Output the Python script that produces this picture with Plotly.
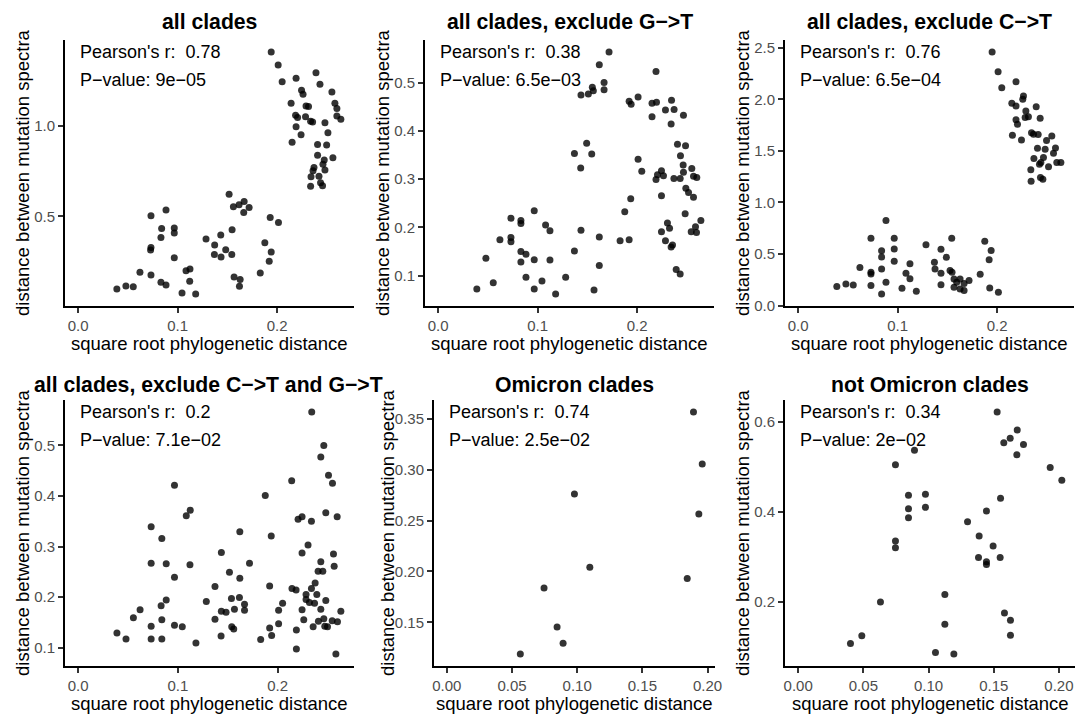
import plotly.graph_objects as go

W, H = 1078, 714
FONT = "Liberation Sans, Arial, sans-serif"

# ---------------- data ----------------
titles = ["all clades", "all clades, exclude G\u2212>T", "all clades, exclude C\u2212>T",
          "all clades, exclude C\u2212>T and G\u2212>T", "Omicron clades", "not Omicron clades"]
pearson_r = ["0.78", "0.38", "0.76", "0.2", "0.74", "0.34"]
p_values = ["9e\u221205", "6.5e\u221203", "6.5e\u221204", "7.1e\u221202", "2.5e\u221202", "2e\u221202"]
x_label = "square root phylogenetic distance"
y_label = "distance between mutation spectra"

p1_x = [0.194, 0.201, 0.205, 0.219, 0.239, 0.243, 0.255, 0.2245, 0.226, 0.214,
        0.229, 0.2315, 0.258, 0.260, 0.2185, 0.2205, 0.2285, 0.2336, 0.2356, 0.248,
        0.260, 0.264, 0.219, 0.224, 0.251, 0.215, 0.2406, 0.2497, 0.2406, 0.2473,
        0.256, 0.246, 0.237, 0.236, 0.248, 0.234, 0.242, 0.2336, 0.2436, 0.2456,
        0.1517, 0.156, 0.1617, 0.1668, 0.1718, 0.1664, 0.193, 0.2013, 0.0732, 0.0883,
        0.0839, 0.0832, 0.0966, 0.0966, 0.1285, 0.1433, 0.1547, 0.1372, 0.1483, 0.1544,
        0.1369, 0.1436, 0.1876, 0.194, 0.192, 0.183, 0.0732, 0.0728, 0.0966, 0.0621,
        0.0732, 0.1084, 0.1124, 0.0832, 0.0883, 0.1121, 0.0389, 0.048, 0.0554, 0.1044,
        0.1181, 0.1567, 0.1628, 0.1621]
p1_y = [1.408, 1.336, 1.244, 1.263, 1.294, 1.230, 1.188, 1.197, 1.175, 1.125,
        1.110, 1.107, 1.125, 1.096, 1.059, 1.046, 1.051, 1.026, 1.022, 1.018,
        1.055, 1.037, 0.996, 0.952, 0.963, 0.910, 0.897, 0.895, 0.838, 0.8125,
        0.824, 0.789, 0.770, 0.752, 0.756, 0.719, 0.722, 0.667, 0.686, 0.669,
        0.623, 0.553, 0.564, 0.583, 0.550, 0.522, 0.494, 0.467, 0.504, 0.535,
        0.434, 0.384, 0.436, 0.408, 0.375, 0.397, 0.426, 0.342, 0.316, 0.290,
        0.290, 0.276, 0.355, 0.303, 0.252, 0.1875, 0.329, 0.314, 0.272, 0.191,
        0.176, 0.200, 0.210, 0.136, 0.121, 0.142, 0.099, 0.116, 0.112, 0.077,
        0.072, 0.165, 0.151, 0.114]

p2_x = [0.1718, 0.162, 0.219, 0.1668, 0.155, 0.156, 0.1668, 0.1436, 0.151, 0.192,
        0.194, 0.201, 0.215, 0.2195, 0.2346, 0.2285, 0.2372, 0.2466, 0.215, 0.2342,
        0.1493, 0.137, 0.1544, 0.1433, 0.2406, 0.2487, 0.2436, 0.201, 0.2047, 0.2463,
        0.255, 0.2245, 0.2205, 0.2265, 0.219, 0.237, 0.2433, 0.2466, 0.260, 0.2567,
        0.249, 0.2517, 0.2567, 0.2245, 0.1936, 0.1876, 0.2483, 0.2641, 0.2587, 0.2544,
        0.2597, 0.2305, 0.2326, 0.2245, 0.2285, 0.2342, 0.2356, 0.1829, 0.192, 0.2393,
        0.2433, 0.1436, 0.162, 0.137, 0.162, 0.1567, 0.0966, 0.0732, 0.0832, 0.0832,
        0.108, 0.1124, 0.0621, 0.0732, 0.0732, 0.0832, 0.0883, 0.0832, 0.0966, 0.1124,
        0.048, 0.0883, 0.1044, 0.1282, 0.0554, 0.0389, 0.0966, 0.1181]
p2_y = [0.563, 0.537, 0.523, 0.500, 0.490, 0.483, 0.485, 0.474, 0.476, 0.461,
        0.455, 0.470, 0.457, 0.459, 0.463, 0.443, 0.444, 0.432, 0.429, 0.414,
        0.374, 0.353, 0.352, 0.323, 0.372, 0.369, 0.348, 0.341, 0.316, 0.329,
        0.322, 0.317, 0.309, 0.307, 0.299, 0.301, 0.301, 0.314, 0.303, 0.306,
        0.281, 0.272, 0.262, 0.2655, 0.259, 0.232, 0.228, 0.214, 0.201, 0.191,
        0.189, 0.209, 0.198, 0.191, 0.172, 0.159, 0.1635, 0.172, 0.174, 0.1124,
        0.103, 0.194, 0.180, 0.151, 0.121, 0.070, 0.2345, 0.219, 0.214, 0.208,
        0.205, 0.193, 0.174, 0.179, 0.170, 0.150, 0.144, 0.128, 0.133, 0.132,
        0.136, 0.0966, 0.089, 0.0966, 0.085, 0.072, 0.072, 0.062]

p3_x = [0.195, 0.201, 0.2047, 0.219, 0.2265, 0.2258, 0.2148, 0.219, 0.2289, 0.2315,
        0.2393, 0.2433, 0.219, 0.2205, 0.2282, 0.2154, 0.2245, 0.2346, 0.2366, 0.2413,
        0.2497, 0.255, 0.2406, 0.2483, 0.2587, 0.2567, 0.237, 0.2466, 0.244, 0.260,
        0.2641, 0.2517, 0.2426, 0.2339, 0.2436, 0.246, 0.2342, 0.0883, 0.0732, 0.0966,
        0.1544, 0.1876, 0.1285, 0.0966, 0.1436, 0.194, 0.0839, 0.0839, 0.149, 0.192,
        0.0966, 0.1124, 0.137, 0.0621, 0.1376, 0.0839, 0.0732, 0.0732, 0.1084, 0.1527,
        0.1547, 0.1436, 0.1124, 0.183, 0.1567, 0.1628, 0.1718, 0.1594, 0.1668, 0.1567,
        0.1628, 0.1668, 0.0883, 0.0389, 0.048, 0.0554, 0.0732, 0.1044, 0.1436, 0.1188,
        0.0839, 0.1926, 0.2013]
p3_y = [2.458, 2.268, 2.113, 2.171, 2.032, 2.000, 1.961, 1.935, 1.887, 1.832,
        1.929, 1.816, 1.803, 1.758, 1.823, 1.652, 1.606, 1.677, 1.661, 1.658,
        1.600, 1.645, 1.526, 1.516, 1.529, 1.477, 1.426, 1.435, 1.387, 1.387,
        1.387, 1.345, 1.371, 1.316, 1.242, 1.226, 1.206, 0.826, 0.652, 0.652,
        0.652, 0.623, 0.590, 0.548, 0.545, 0.535, 0.532, 0.471, 0.468, 0.445,
        0.429, 0.406, 0.419, 0.368, 0.355, 0.355, 0.323, 0.306, 0.313, 0.339,
        0.323, 0.313, 0.261, 0.303, 0.258, 0.258, 0.242, 0.226, 0.213, 0.177,
        0.161, 0.145, 0.226, 0.184, 0.210, 0.200, 0.194, 0.168, 0.203, 0.139,
        0.113, 0.171, 0.129]

p4_x = [0.2342, 0.2463, 0.2433, 0.251, 0.255, 0.2141, 0.0966, 0.1876, 0.1124, 0.1084,
        0.2205, 0.2245, 0.2339, 0.2483, 0.2597, 0.0732, 0.0839, 0.1621, 0.1936, 0.2305,
        0.2245, 0.1436, 0.256, 0.2433, 0.0732, 0.0883, 0.1121, 0.1718, 0.2567, 0.2406,
        0.2453, 0.1517, 0.0966, 0.1621, 0.192, 0.1372, 0.2376, 0.2144, 0.2185, 0.2339,
        0.2285, 0.2393, 0.2285, 0.2319, 0.237, 0.2483, 0.0883, 0.0832, 0.1285, 0.1537,
        0.1617, 0.1668, 0.1668, 0.1567, 0.1436, 0.1483, 0.205, 0.201, 0.2245, 0.2433,
        0.2634, 0.0621, 0.0554, 0.0839, 0.1372, 0.2262, 0.2463, 0.2409, 0.2547, 0.260,
        0.201, 0.0732, 0.0966, 0.1044, 0.154, 0.156, 0.192, 0.2356, 0.2473, 0.250,
        0.0389, 0.048, 0.0732, 0.0839, 0.1433, 0.194, 0.2188, 0.183, 0.1181, 0.2188,
        0.2584]
p4_y = [0.566, 0.500, 0.477, 0.441, 0.425, 0.430, 0.421, 0.401, 0.372, 0.361,
        0.354, 0.359, 0.350, 0.367, 0.359, 0.339, 0.316, 0.329, 0.321, 0.303,
        0.287, 0.288, 0.285, 0.270, 0.267, 0.266, 0.264, 0.267, 0.261, 0.251,
        0.251, 0.249, 0.239, 0.237, 0.222, 0.221, 0.228, 0.217, 0.214, 0.217,
        0.205, 0.205, 0.195, 0.189, 0.1875, 0.193, 0.194, 0.183, 0.191, 0.197,
        0.199, 0.186, 0.174, 0.176, 0.172, 0.170, 0.1875, 0.174, 0.175, 0.176,
        0.172, 0.175, 0.159, 0.155, 0.156, 0.155, 0.157, 0.152, 0.153, 0.151,
        0.147, 0.142, 0.144, 0.141, 0.141, 0.137, 0.139, 0.141, 0.142, 0.141,
        0.129, 0.117, 0.117, 0.117, 0.123, 0.124, 0.135, 0.116, 0.109, 0.097,
        0.0875]

p5_x = [0.1892, 0.1959, 0.0979, 0.1933, 0.1097, 0.1844, 0.0746, 0.0846, 0.0892, 0.0564]
p5_y = [0.3565, 0.3056, 0.2761, 0.2565, 0.2042, 0.1931, 0.1837, 0.1454, 0.1294, 0.119]

p6_x = [0.1526, 0.168, 0.1626, 0.1577, 0.1728, 0.1677, 0.0892, 0.0746, 0.1933, 0.2022,
        0.0846, 0.0976, 0.1552, 0.0846, 0.0976, 0.1444, 0.0846, 0.1299, 0.1388, 0.0746,
        0.0746, 0.1495, 0.1383, 0.1444, 0.1444, 0.1549, 0.1125, 0.0631, 0.1582, 0.1628,
        0.1628, 0.1125, 0.0488, 0.0401, 0.1053, 0.1194]
p6_y = [0.622, 0.582, 0.564, 0.554, 0.550, 0.527, 0.537, 0.505, 0.4985, 0.470,
        0.437, 0.439, 0.430, 0.407, 0.410, 0.402, 0.387, 0.378, 0.346, 0.335,
        0.320, 0.324, 0.2985, 0.289, 0.283, 0.2985, 0.216, 0.1993, 0.175, 0.1585,
        0.125, 0.150, 0.1244, 0.107, 0.0867, 0.0837]

series = [(p1_x, p1_y), (p2_x, p2_y), (p3_x, p3_y), (p4_x, p4_y), (p5_x, p5_y), (p6_x, p6_y)]

# ---------------- layout (pixel boxes of each panel) ----------------
panels = [
    dict(l=65, r=354, t=40, b=306, xd=0.1, xf=".1f", yd=0.5, yf=".1f", tx=209.5, ty=21, ytx=22),
    dict(l=425, r=714, t=40, b=306, xd=0.1, xf=".1f", yd=0.1, yf=".1f", tx=569.5, ty=21, ytx=382),
    dict(l=785, r=1074, t=40, b=306, xd=0.1, xf=".1f", yd=0.5, yf=".1f", tx=929.5, ty=21, ytx=742),
    dict(l=65, r=354, t=400, b=666, xd=0.1, xf=".1f", yd=0.1, yf=".1f", tx=208, ty=384, ytx=22),
    dict(l=434, r=715, t=400, b=666, xd=0.05, xf=".2f", yd=0.05, yf=".2f", tx=574.5, ty=384, ytx=387),
    dict(l=785, r=1075, t=400, b=666, xd=0.05, xf=".2f", yd=0.2, yf=".1f", tx=929.5, ty=384, ytx=742),
]


def px(v):
    return v / W


def py(v):
    return 1 - v / H


fig = go.Figure()
annotations = []
layout = {}

for i, ((xs, ys), pn) in enumerate(zip(series, panels)):
    n = "" if i == 0 else str(i + 1)
    fig.add_trace(go.Scatter(
        x=xs, y=ys, mode="markers", xaxis="x" + n, yaxis="y" + n,
        marker=dict(size=7, color="rgba(0,0,0,0.8)", line=dict(width=0)),
        showlegend=False, hoverinfo="x+y", cliponaxis=False))

    xmin = min(0.0, min(xs))
    xmax = max(xs)
    xs_span = xmax - xmin
    ymin, ymax = min(ys), max(ys)
    ys_span = ymax - ymin
    common = dict(showline=True, linecolor="#000000", linewidth=2,
                  ticks="outside", ticklen=5, tickwidth=1.5, tickcolor="#333333",
                  showgrid=False, zeroline=False, automargin=False,
                  tickfont=dict(family=FONT, size=15, color="#4D4D4D"))
    layout["xaxis" + n] = dict(common, domain=[px(pn["l"]), px(pn["r"])], anchor="y" + n,
                               range=[xmin - 0.05 * xs_span, xmax + 0.05 * xs_span],
                               tick0=0, dtick=pn["xd"], tickformat=pn["xf"])
    layout["yaxis" + n] = dict(common, domain=[py(pn["b"]), py(pn["t"])], anchor="x" + n,
                               range=[ymin - 0.05 * ys_span, ymax + 0.05 * ys_span],
                               tick0=0, dtick=pn["yd"], tickformat=pn["yf"])

    # title
    annotations.append(dict(text="<b>" + titles[i] + "</b>", x=px(pn["tx"]), y=py(pn["ty"]),
                            xref="paper", yref="paper", xanchor="center", yanchor="middle",
                            showarrow=False, font=dict(family=FONT, size=21.2, color="black")))
    # stats text
    annotations.append(dict(text="Pearson's r: \u00a0" + pearson_r[i], x=0, xref="x" + n,
                            y=py(pn["t"] + 12), yref="paper", xanchor="left", yanchor="middle",
                            showarrow=False, font=dict(family=FONT, size=18, color="black")))
    annotations.append(dict(text="P\u2212value: " + p_values[i], x=0, xref="x" + n,
                            y=py(pn["t"] + 40), yref="paper", xanchor="left", yanchor="middle",
                            showarrow=False, font=dict(family=FONT, size=18, color="black")))
    # axis titles
    annotations.append(dict(text=x_label, x=px((pn["l"] + pn["r"]) / 2), y=py(pn["b"] + 37),
                            xref="paper", yref="paper", xanchor="center", yanchor="middle",
                            showarrow=False, font=dict(family=FONT, size=18.5, color="black")))
    annotations.append(dict(text=y_label, x=px(pn["ytx"]), y=py((pn["t"] + pn["b"]) / 2),
                            xref="paper", yref="paper", xanchor="center", yanchor="middle",
                            textangle=-90, showarrow=False,
                            font=dict(family=FONT, size=18.5, color="black")))

fig.update_layout(
    template="none",
    width=W, height=H, autosize=False,
    margin=dict(l=0, r=0, t=0, b=0, pad=0),
    paper_bgcolor="white", plot_bgcolor="white",
    hovermode=False,
    annotations=annotations, **layout)

fig.write_html("out.html", config={"displayModeBar": False},
               post_script="document.body.style.margin='0px';")
